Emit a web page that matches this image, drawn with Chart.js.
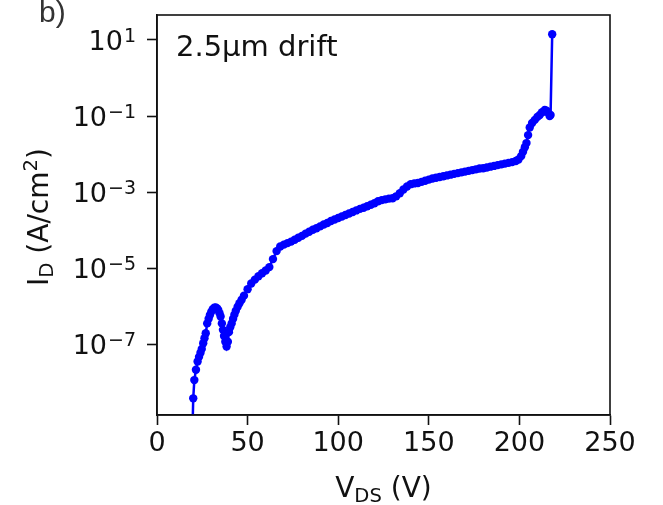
<!DOCTYPE html>
<html>
<head>
<meta charset="utf-8">
<script src="https://cdn.jsdelivr.net/npm/chart.js@4/dist/chart.umd.min.js"></script>
<style>
html, body { margin: 0; padding: 0; background: #fff; }
</style>
</head>
<body>
<canvas id="chart" width="663" height="505"></canvas>
<script>
'use strict';

// drain voltage (V)
var vds = [
    19.4, 20.0, 20.6, 21.5, 22.4, 23.2, 24.0, 24.7, 25.5, 26.2,
    26.9, 27.7, 28.5, 29.2, 30.0, 30.8, 31.6, 32.4, 33.2, 33.8,
    34.5, 35.1, 35.8, 36.4, 37.0, 37.7, 38.4, 39.1, 39.7, 40.4,
    41.2, 42.0, 42.7, 43.5, 44.5, 45.5, 46.7, 48, 50, 52,
    54, 56, 58, 60, 62, 64, 66, 68, 70, 72,
    74, 76, 78, 80, 82, 84, 86, 88, 90, 92,
    94, 96, 98, 100, 102, 104, 106, 108, 110, 112,
    114, 116, 118, 120, 122, 124, 126, 128, 130, 132,
    134, 136, 138, 140, 142, 144, 146, 148, 150, 152,
    154, 156, 158, 160, 162, 164, 166, 168, 170, 172,
    174, 176, 178, 180, 182, 184, 186, 188, 190, 192,
    194, 196, 198, 199.5, 201, 202, 203, 203.9, 204.8, 205.7,
    207, 208.5, 210, 211.2, 212.5, 214, 215, 215.8, 216.7, 217.2,
    218.1
];

// log10 of drain current density (A/cm2)
var logId = [
    -9.6, -8.42, -7.94, -7.67, -7.45, -7.33, -7.22, -7.12, -6.97, -6.84,
    -6.71, -6.45, -6.33, -6.23, -6.14, -6.08, -6.04, -6.03, -6.06, -6.10,
    -6.18, -6.27, -6.45, -6.62, -6.78, -6.93, -7.06, -6.93, -6.68, -6.55,
    -6.45, -6.33, -6.22, -6.12, -6.01, -5.92, -5.83, -5.72, -5.55, -5.40,
    -5.30, -5.21, -5.13, -5.06, -4.97, -4.76, -4.55, -4.43, -4.38, -4.34,
    -4.30, -4.25, -4.20, -4.15, -4.09, -4.04, -3.99, -3.95, -3.90, -3.85,
    -3.81, -3.76, -3.72, -3.68, -3.64, -3.60, -3.56, -3.52, -3.48, -3.44,
    -3.41, -3.37, -3.33, -3.29, -3.24, -3.21, -3.19, -3.17, -3.16, -3.11,
    -3.03, -2.93, -2.85, -2.79, -2.77, -2.76, -2.73, -2.70, -2.67, -2.64,
    -2.62, -2.60, -2.58, -2.56, -2.54, -2.52, -2.50, -2.48, -2.46, -2.44,
    -2.42, -2.40, -2.38, -2.37, -2.35, -2.33, -2.31, -2.29, -2.27, -2.25,
    -2.23, -2.21, -2.18, -2.14, -2.05, -1.94, -1.82, -1.71, -1.50, -1.30,
    -1.18, -1.10, -1.02, -0.97, -0.90, -0.84, -0.86, -0.91, -1.00, -0.97,
    1.15
];

var yTickExp = [-7, -5, -3, -1, 1];
var xTicks = [0, 50, 100, 150, 200, 250];

// draw a run of text pieces (normal / sub / sup) centred on x
function drawRich(ctx, parts, x, y, size) {
    var w = 0;
    parts.forEach(function (p) {
        ctx.font = (p.s ? size * 0.7 : size) + 'px "DejaVu Sans"';
        p.w = ctx.measureText(p.t).width;
        w += p.w;
    });
    var cx = x - w / 2;
    parts.forEach(function (p) {
        ctx.font = (p.s ? size * 0.7 : size) + 'px "DejaVu Sans"';
        ctx.fillText(p.t, cx, y + (p.s || 0));
        cx += p.w;
    });
}

var labelPlugin = {
    id: 'labels',
    afterDraw: function (chart) {
        var ctx = chart.ctx;
        var a = chart.chartArea;
        var ys = chart.scales.y;
        ctx.save();
        ctx.strokeStyle = '#111';
        ctx.lineWidth = 1.6;
        ctx.strokeRect(a.left, a.top, a.right - a.left, a.bottom - a.top);

        // y tick labels as 10 with a raised exponent
        ctx.fillStyle = '#111';
        ctx.textAlign = 'left';
        ctx.textBaseline = 'alphabetic';
        yTickExp.forEach(function (e) {
            var py = ys.getPixelForValue(Math.pow(10, e));
            var ex = String(e).replace('-', '\u2212');
            ctx.font = '19px "DejaVu Sans"';
            var ew = ctx.measureText(ex).width;
            ctx.fillText(ex, 136 - ew, py + 2);
            ctx.font = '27px "DejaVu Sans"';
            var tw = ctx.measureText('10').width;
            ctx.fillText('10', 136 - ew - tw - 1, py + 10);
        });

        ctx.font = '29px "DejaVu Sans"';
        ctx.fillText('2.5\u00B5m drift', 176, 56);

        ctx.fillStyle = '#333';
        ctx.font = '30px "Liberation Sans"';
        ctx.fillText('b)', 39, 22);

        ctx.fillStyle = '#111';
        drawRich(ctx, [{ t: 'V' }, { t: 'DS', s: 5 }, { t: ' (V)' }], (a.left + a.right) / 2, 497, 28);

        ctx.translate(48, (a.top + a.bottom) / 2 + 2);
        ctx.rotate(-Math.PI / 2);
        drawRich(ctx, [{ t: 'I' }, { t: 'D', s: 5 }, { t: ' (A/cm' }, { t: '2', s: -11 }, { t: ')' }], 0, 0, 28);
        ctx.restore();
    }
};

drawChart();

function drawChart() {
    var ctx = document.getElementById('chart').getContext('2d');
    var points = vds.map(function (v, i) {
        return { x: v, y: Math.pow(10, logId[i]) };
    });
    var myChart = new Chart(ctx, {
        type: 'scatter',
        data: {
            datasets: [{
                data: points,
                showLine: true,
                borderColor: '#0000ff',
                borderWidth: 2.5,
                pointRadius: 4.2,
                pointBackgroundColor: '#0000ff',
                pointBorderWidth: 0,
                tension: 0
            }]
        },
        options: {
            responsive: false,
            animation: false,
            devicePixelRatio: 1,
            layout: { padding: { top: 15, right: 53, left: 0, bottom: 0 } },
            plugins: { legend: { display: false }, tooltip: { enabled: false } },
            scales: {
                x: {
                    type: 'linear',
                    min: 0,
                    max: 250,
                    afterBuildTicks: function (scale) {
                        scale.ticks = xTicks.map(function (v) { return { value: v }; });
                    },
                    afterFit: function (scale) { scale.height = 90; },
                    ticks: { font: { family: 'DejaVu Sans', size: 27 }, color: '#111', padding: 3, maxRotation: 0 },
                    grid: { drawOnChartArea: false, drawTicks: true, tickLength: 10, tickWidth: 1.6, tickColor: '#111' },
                    border: { display: true, color: '#111', width: 1.6 }
                },
                y: {
                    type: 'logarithmic',
                    min: Math.pow(10, -8.858),
                    max: Math.pow(10, 1.657),
                    afterBuildTicks: function (scale) {
                        scale.ticks = yTickExp.map(function (e) { return { value: Math.pow(10, e) }; });
                    },
                    afterFit: function (scale) {
                        scale.width = 157;
                        scale.paddingTop = 0;
                        scale.paddingBottom = 0;
                    },
                    ticks: { display: false },
                    grid: { drawOnChartArea: false, drawTicks: true, tickLength: 10, tickWidth: 1.6, tickColor: '#111' },
                    border: { display: true, color: '#111', width: 1.6 }
                }
            }
        },
        plugins: [labelPlugin]
    });
}
</script>
</body>
</html>
